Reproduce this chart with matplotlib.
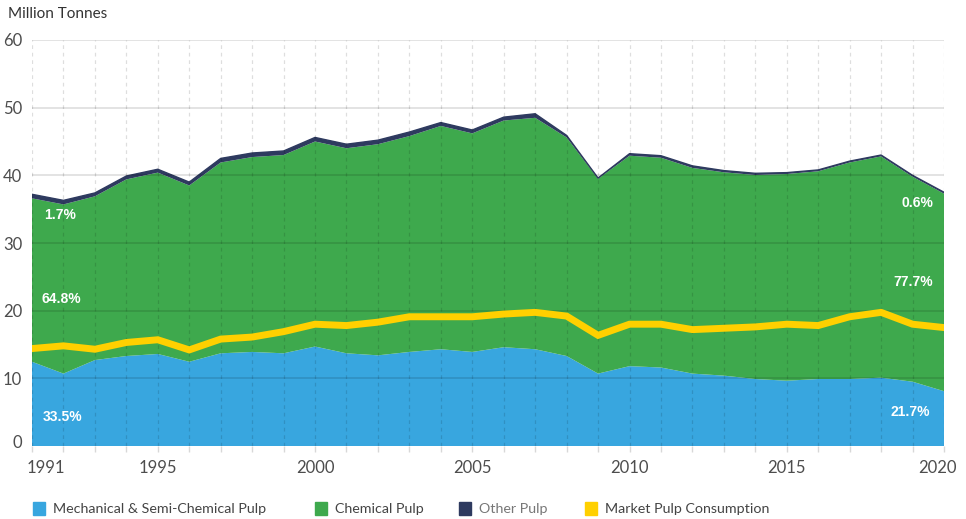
import matplotlib
matplotlib.use("Agg")
import matplotlib.pyplot as plt
import matplotlib.transforms as mtransforms
from matplotlib.patches import Rectangle
import numpy as np

years = list(range(1991, 2021))
total = [37.2, 36.3, 37.4, 39.9, 40.9, 39.0, 42.5, 43.3, 43.6, 45.6,
         44.6, 45.2, 46.4, 47.8, 46.7, 48.6, 49.1, 45.9, 39.6, 43.2,
         42.9, 41.4, 40.7, 40.3, 40.4, 40.8, 42.1, 43.0, 40.0, 37.5]
mechanical = [12.45, 10.7, 12.7, 13.3, 13.6, 12.45, 13.7, 13.9, 13.7, 14.7,
              13.7, 13.4, 13.9, 14.3, 13.9, 14.6, 14.3, 13.3, 10.7, 11.8,
              11.6, 10.7, 10.4, 9.9, 9.65, 9.9, 9.9, 10.1, 9.5, 8.1]
other = [0.6, 0.6, 0.5, 0.5, 0.5, 0.5, 0.6, 0.6, 0.6, 0.6,
         0.6, 0.6, 0.6, 0.5, 0.5, 0.5, 0.6, 0.3, 0.1, 0.3,
         0.3, 0.3, 0.25, 0.25, 0.2, 0.2, 0.2, 0.2, 0.2, 0.2]
chemical = [round(t - m - o, 2) for t, m, o in zip(total, mechanical, other)]
market = [14.4, 14.8, 14.3, 15.3, 15.7, 14.2, 15.8, 16.1, 16.9, 18.0,
          17.8, 18.3, 19.1, 19.1, 19.1, 19.5, 19.75, 19.2, 16.35, 18.0,
          18.0, 17.2, 17.4, 17.6, 18.0, 17.8, 19.1, 19.75, 18.0, 17.5]

x_tick_labels = [1991, 1995, 2000, 2005, 2010, 2015, 2020]
y_ticks = [0, 10, 20, 30, 40, 50, 60]
series_names = ["Mechanical & Semi-Chemical Pulp", "Chemical Pulp", "Other Pulp", "Market Pulp Consumption"]
share_labels_start = ["33.5%", "64.8%", "1.7%"]
share_labels_end = ["21.7%", "77.7%", "0.6%"]

BLUE = "#38A6DF"
GREEN = "#3EA94D"
NAVY = "#2E3A5F"
YELLOW = "#FFD000"
TXT = "#4d4d4d"

plt.rcParams['font.family'] = ['Lato', 'DejaVu Sans']

W, H = 966, 519
fig = plt.figure(figsize=(W / 100, H / 100), dpi=100)
ax = fig.add_axes([32 / W, 1 - 446 / H, (944 - 32) / W, (446 - 40) / H])

ax.stackplot(years, mechanical, chemical, other, colors=[BLUE, GREEN, NAVY],
             linewidth=0, zorder=1)
top = np.array(mechanical) + np.array(chemical) + np.array(other)
ax.plot(years, top, color=NAVY, lw=1.0, zorder=2)
ax.plot(years, market, color=YELLOW, lw=5, zorder=4, solid_joinstyle='miter')

ax.set_xlim(1991, 2020)
ax.set_ylim(0, 60)

# gridlines on top
for v in y_ticks[1:]:
    ax.axhline(v, color="black", alpha=0.12, lw=1.3, zorder=3)
for yr in years:
    ax.axvline(yr, color="black", alpha=0.13, lw=0.9, ls=(0, (3, 3)), zorder=3)

for s in ax.spines.values():
    s.set_visible(False)

ax.set_yticks(y_ticks)
ax.set_yticklabels([str(v) for v in y_ticks])
ax.tick_params(axis='y', length=0, pad=7, labelsize=12, labelcolor=TXT)
ax.set_xticks(x_tick_labels)
ax.set_xticklabels([str(v) for v in x_tick_labels])
ax.set_xticks(years, minor=True)
ax.tick_params(axis='x', which='both', length=4, color="#d8d8d8", width=1,
               pad=6, labelsize=12, labelcolor=TXT)

# adjust first/last x labels and 0 label
xl = ax.get_xticklabels()
xl[0].set_transform(xl[0].get_transform() + mtransforms.ScaledTranslation(14 / 100, 0, fig.dpi_scale_trans))
xl[-1].set_transform(xl[-1].get_transform() + mtransforms.ScaledTranslation(-7 / 100, 0, fig.dpi_scale_trans))
yl = ax.get_yticklabels()
yl[0].set_transform(yl[0].get_transform() + mtransforms.ScaledTranslation(0, 5 / 100, fig.dpi_scale_trans))

# share labels
def px2data(px, py):
    return 1991 + (px - 32) / ((944 - 32) / 29), (446 - py) / (406 / 60)

lbl_kw = dict(color="white", fontsize=10, fontweight="bold",
              family=["Liberation Sans", "DejaVu Sans"], zorder=6, va="center")
for txt, (px, py) in zip(share_labels_start, [(43, 417), (42, 299), (44, 215)]):
    xx, yy = px2data(px, py)
    ax.text(xx, yy, txt, ha="left", **lbl_kw)
for txt, (px, py) in zip(share_labels_end, [(930, 411.5), (933, 281.5), (933, 203)]):
    xx, yy = px2data(px, py)
    ax.text(xx, yy, txt, ha="right", **lbl_kw)

fig.text(8 / W, 1 - 14 / H, "Million Tonnes", fontsize=11, color="#333333",
         ha="left", va="center")

# legend
leg_colors = [BLUE, GREEN, NAVY, YELLOW]
leg_sq_x = [33, 315, 459, 585]
leg_txt_col = ["#444444", "#444444", "#777777", "#444444"]
for name, c, sx, tc in zip(series_names, leg_colors, leg_sq_x, leg_txt_col):
    fig.patches.append(Rectangle((sx / W, 1 - 515 / H), 12 / W, 13 / H,
                                 transform=fig.transFigure, color=c))
    fig.text((sx + 20) / W, 1 - 509 / H, name, fontsize=10.3, color=tc,
             ha="left", va="center")

fig.savefig("out.png", dpi=100)
